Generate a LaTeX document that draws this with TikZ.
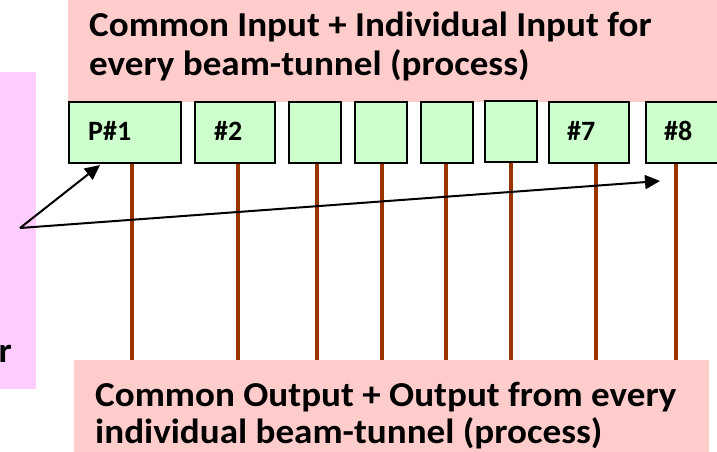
\documentclass[tikz,border=0pt]{standalone}
\usepackage{fontspec}
\setmainfont{Carlito}
\usetikzlibrary{arrows.meta}
\definecolor{pinkbg}{HTML}{FFCCCC}
\definecolor{magbg}{HTML}{FFCCFF}
\definecolor{greenbox}{HTML}{CCFFCC}
\definecolor{brownline}{HTML}{993300}
\tikzset{
  px/.style={x=1pt,y=-1pt},
  procbox/.style={draw=black,line width=2pt,fill=greenbox,inner sep=0pt,anchor=north west},
  proclabel/.style={font=\fontsize{28}{32}\selectfont\bfseries,anchor=base west,inner sep=0pt},
  bigtext/.style={font=\addfontfeature{FakeStretch=1.06}\fontsize{35}{38}\selectfont\bfseries,anchor=base west,inner sep=0pt},
  tunnel/.style={draw=brownline,line width=4pt},
  pointer/.style={draw=black,line width=2pt,-{Triangle[length=15pt,width=14pt]}}
}
\begin{document}
\begin{tikzpicture}[px]
\useasboundingbox (0,0) rectangle (717,452);
% backgrounds
\fill[magbg] (0,72) rectangle (36,389);
\node[font=\addfontfeature{FakeStretch=1.06}\fontsize{35}{38}\selectfont\bfseries,anchor=base east,inner sep=0pt] (rtxt) at (12,362) {r};
\fill[pinkbg] (68,0) rectangle (717,102);
\node[bigtext] (top1) at (89,36.7) {Common Input + Individual Input for};
\node[bigtext] (top2) at (89,75) {every beam-tunnel (process)};
% tunnels (drawn before boxes)
\foreach \x/\n in {132/1,238/2,317/3,382/4,446/5,511/6,596/7,676/8}{
  \coordinate (t\n) at (\x,162);
  \coordinate (b\n) at (\x,360);
  \draw[tunnel] (t\n) -- (b\n);
}
% boxes
\node[procbox,minimum width=112pt,minimum height=61pt] (p1) at (68,101) {};
\node[procbox,minimum width=80pt,minimum height=61pt] (p2) at (194,101) {};
\node[procbox,minimum width=52pt,minimum height=61pt] (p3) at (288,101) {};
\node[procbox,minimum width=52pt,minimum height=61pt] (p4) at (354,101) {};
\node[procbox,minimum width=52pt,minimum height=61pt] (p5) at (420,101) {};
\node[procbox,minimum width=52pt,minimum height=61pt] (p6) at (484,100) {};
\node[procbox,minimum width=80pt,minimum height=61pt] (p7) at (548,101) {};
\node[procbox,minimum width=90pt,minimum height=61pt] (p8) at (645,101) {};
\node[proclabel] (l1) at (88,140) {P\#1};
\node[proclabel] (l2) at (214,140) {\#2};
\node[proclabel] (l7) at (567,140) {\#7};
\node[proclabel] (l8) at (664,140) {\#8};
% bottom
\fill[pinkbg] (74,360) rectangle (709,452);
\node[bigtext] (bot1) at (95,406.7) {Common Output + Output from every};
\node[bigtext] (bot2) at (95,443.5) {individual beam-tunnel (process)};
% pointers
\coordinate (src) at (20,228);
\coordinate (tip1) at (100,165);
\coordinate (tip2) at (660,181);
\draw[pointer] (src) -- (tip1);
\draw[pointer] (src) -- (tip2);
\end{tikzpicture}
\end{document}
